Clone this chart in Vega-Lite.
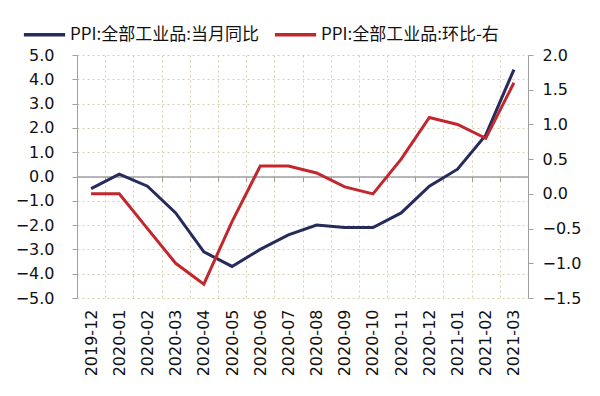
{
  "$schema": "https://vega.github.io/schema/vega-lite/v6.json",
  "autosize": {"type": "none"},
  "width": 451,
  "height": 243,
  "padding": {"left": 77, "top": 55, "right": 72, "bottom": 98},
  "background": "white",
  "config": {
    "view": {"stroke": null},
    "font": "DejaVu Sans",
    "axis": {"labelColor": "#111111", "labelFont": "DejaVu Sans", "labelFontSize": 16, "domainColor": "#a0a0a0", "tickColor": "#a0a0a0", "title": null}
  },
  "data": {
    "values": [
      {"month": "2019-12", "yoy": -0.5, "mom": 0.0},
      {"month": "2020-01", "yoy": 0.1, "mom": 0.0},
      {"month": "2020-02", "yoy": -0.4, "mom": -0.5},
      {"month": "2020-03", "yoy": -1.5, "mom": -1.0},
      {"month": "2020-04", "yoy": -3.1, "mom": -1.3},
      {"month": "2020-05", "yoy": -3.7, "mom": -0.4},
      {"month": "2020-06", "yoy": -3.0, "mom": 0.4},
      {"month": "2020-07", "yoy": -2.4, "mom": 0.4},
      {"month": "2020-08", "yoy": -2.0, "mom": 0.3},
      {"month": "2020-09", "yoy": -2.1, "mom": 0.1},
      {"month": "2020-10", "yoy": -2.1, "mom": 0.0},
      {"month": "2020-11", "yoy": -1.5, "mom": 0.5},
      {"month": "2020-12", "yoy": -0.4, "mom": 1.1},
      {"month": "2021-01", "yoy": 0.3, "mom": 1.0},
      {"month": "2021-02", "yoy": 1.7, "mom": 0.8},
      {"month": "2021-03", "yoy": 4.4, "mom": 1.6}
    ]
  },
  "layer": [
    {
      "mark": {"type": "line", "strokeWidth": 3, "strokeJoin": "miter"},
      "encoding": {
        "x": {
          "field": "month", "type": "ordinal", "sort": null,
          "scale": {"paddingInner": 0, "paddingOuter": 0},
          "axis": {"orient": "bottom", "labelAngle": -90, "labelPadding": 11, "ticks": false, "domain": false, "grid": true, "tickBand": "extent", "gridDash": [2, 3], "gridColor": "#d6d0b0", "gridWidth": 1}
        },
        "y": {
          "field": "yoy", "type": "quantitative",
          "scale": {"domain": [-5, 5], "nice": false, "zero": false},
          "axis": {"orient": "left", "values": [-5, -4, -3, -2, -1, 0, 1, 2, 3, 4, 5], "format": ".1f", "tickSize": 5, "labelPadding": 18, "grid": true, "gridDash": [2, 3], "gridColor": "#d6d0b0", "gridWidth": 1}
        },
        "color": {
          "datum": "PPI:全部工业品:当月同比",
          "type": "nominal",
          "scale": {"domain": ["PPI:全部工业品:当月同比", "PPI:全部工业品:环比-右"], "range": ["#262b5c", "#c1272d"]},
          "legend": {
            "title": null, "orient": "none", "direction": "horizontal", "legendX": -55, "legendY": -43,
            "symbolType": "stroke", "symbolSize": 1700, "symbolStrokeWidth": 3.5, "labelLimit": 0,
            "labelFont": "Noto Sans CJK SC", "labelFontSize": 17, "labelColor": "#111111", "labelOffset": 3, "columnPadding": 8
          }
        }
      }
    },
    {
      "mark": {"type": "line", "strokeWidth": 3, "strokeJoin": "miter"},
      "encoding": {
        "x": {
          "field": "month", "type": "ordinal", "sort": null,
          "axis": {"orient": "bottom", "offset": -121.5, "labels": false, "ticks": true, "tickBand": "extent", "tickSize": 5, "domain": true, "domainWidth": 1.5, "grid": false}
        },
        "y": {
          "field": "mom", "type": "quantitative",
          "scale": {"domain": [-1.5, 2], "nice": false, "zero": false},
          "axis": {"orient": "right", "values": [-1.5, -1, -0.5, 0, 0.5, 1, 1.5, 2], "format": ".1f", "tickSize": 5, "labelPadding": 9, "grid": false}
        },
        "color": {"datum": "PPI:全部工业品:环比-右", "type": "nominal"}
      }
    }
  ],
  "resolve": {"scale": {"y": "independent"}, "axis": {"x": "independent"}}
}
